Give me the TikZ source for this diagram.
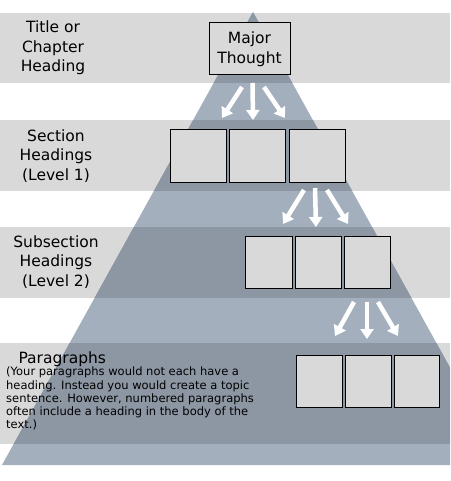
\documentclass[tikz,border=0pt]{standalone}
\usepackage{fontspec}
\setmainfont{DejaVu Sans}
\usetikzlibrary{arrows.meta,positioning,calc}
\definecolor{bandgray}{HTML}{D9D9D9}
\definecolor{pyrlight}{HTML}{A3AFBD}
\definecolor{pyrdark}{HTML}{8D97A3}

\begin{document}
\begin{tikzpicture}[x=1pt,y=-1pt,
    box/.style={draw=black, line width=1pt, fill=bandgray, inner sep=0pt, minimum height=52pt},
    flow/.style={draw=white, line width=4.5pt, -{Triangle[width=13pt,length=10pt]}},
    lbl/.style={align=center, font=\fontsize{15.5}{19.5}\selectfont},
    node distance=2.5pt]
    \clip (0,0) rectangle (450,481);

    % Pita abu-abu
    \fill[bandgray] (0,13) rectangle (450,83);
    \fill[bandgray] (0,120) rectangle (450,191);
    \fill[bandgray] (0,227) rectangle (450,298);
    \fill[bandgray] (0,343) rectangle (450,444);

    % Piramida
    \fill[pyrlight] (253,12) -- (2,465) -- (504,465) -- cycle;
    \begin{scope}
        \clip (253,12) -- (2,465) -- (504,465) -- cycle;
        \fill[pyrdark] (0,13) rectangle (450,83);
        \fill[pyrdark] (0,120) rectangle (450,191);
        \fill[pyrdark] (0,227) rectangle (450,298);
        \fill[pyrdark] (0,343) rectangle (450,444);
    \end{scope}

    % Label kiri
    \node[lbl] (titlelbl) at (53,48) {Title or\\Chapter\\Heading};
    \node[lbl] (seclbl) at (56,156) {Section\\Headings\\(Level 1)};
    \node[lbl] (sublbl) at (56,262) {Subsection\\Headings\\(Level 2)};
    \node[lbl, anchor=west] (parlbl) at (15,359) {Paragraphs};
    \node[anchor=north west, align=left, inner sep=0pt,
          font=\fontsize{11.5}{13.2}\selectfont] (partxt) at (6,367) {
        (Your paragraphs would not each have a\\
        heading. Instead you would create a topic\\
        sentence. However, numbered paragraphs\\
        often include a heading in the body of the\\
        text.)};

    % Kotak
    \node[box, lbl, minimum width=81pt] (major) at (249.5,49) {Major\\Thought};

    \node[box, minimum width=56pt] (sec1) at (198,156) {};
    \node[box, minimum width=56pt, right=of sec1] (sec2) {};
    \node[box, minimum width=56pt, right=of sec2] (sec3) {};

    \node[box, minimum width=47pt] (sub1) at (268.5,262) {};
    \node[box, minimum width=46pt, right=2pt of sub1] (sub2) {};
    \node[box, minimum width=46pt, right=2pt of sub2] (sub3) {};

    \node[box, minimum width=46pt] (par1) at (319,381) {};
    \node[box, minimum width=46pt, right=2pt of par1] (par2) {};
    \node[box, minimum width=45pt, right=2pt of par2] (par3) {};

    % Panah
    \coordinate (a1s) at (242,87);   \coordinate (a1e) at (222,118);
    \coordinate (a2s) at (252.5,83); \coordinate (a2e) at (253,120);
    \coordinate (a3s) at (264,87);   \coordinate (a3e) at (285,118);
    \draw[flow] (a1s) -- (a1e);
    \draw[flow] (a2s) -- (a2e);
    \draw[flow] (a3s) -- (a3e);

    \coordinate (b1s) at (304,190);  \coordinate (b1e) at (283,224);
    \coordinate (b2s) at (315,188);  \coordinate (b2e) at (316,227);
    \coordinate (b3s) at (327,190);  \coordinate (b3e) at (348,224);
    \draw[flow] (b1s) -- (b1e);
    \draw[flow] (b2s) -- (b2e);
    \draw[flow] (b3s) -- (b3e);

    \coordinate (c1s) at (354,302);  \coordinate (c1e) at (335,336);
    \coordinate (c2s) at (367,302);  \coordinate (c2e) at (367,339);
    \coordinate (c3s) at (378,302);  \coordinate (c3e) at (398,336);
    \draw[flow] (c1s) -- (c1e);
    \draw[flow] (c2s) -- (c2e);
    \draw[flow] (c3s) -- (c3e);
\end{tikzpicture}
\end{document}
